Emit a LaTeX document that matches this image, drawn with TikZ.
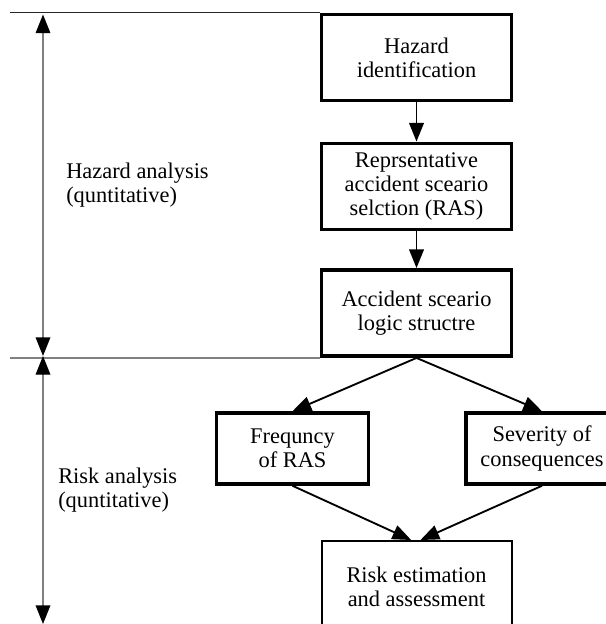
\documentclass[tikz,border=0pt]{standalone}
\usepackage{fontspec}
\setmainfont{Liberation Serif}
\usepackage{tikz}
\usetikzlibrary{arrows.meta}

\begin{document}
\begin{tikzpicture}[x=0.75pt, y=-0.75pt,
    every node/.style={font=\fontsize{16.8}{18.2}\selectfont},
    blk/.style={draw, line width=2.9pt, align=center, inner sep=0pt,
        minimum width=142.5pt, minimum height=64.5pt},
    smallblk/.style={blk, minimum width=114pt, minimum height=53pt},
    flow/.style={-{Triangle[length=14pt, width=11pt]}, line width=1.4pt},
    dim/.style={{Triangle[length=14pt, width=11pt, color=black]}-{Triangle[length=14pt, width=11pt, color=black]},
        gray, line width=1pt}]
    \useasboundingbox (0,0) rectangle (606,624);

    % Boxes
    \node[blk] (haz) at (416.5,57.5) {Hazard\\identification};
    \node[blk] (ras) at (416.5,186.5) {Reprsentative\\accident sceario\\selction (RAS)};
    \node[blk] (logic) at (416.5,313) {Accident sceario\\logic structre};
    \node[smallblk] (freq) at (292.5,448.5) {Frequncy\\of RAS};
    \node[smallblk] (sev) at (542,448.5) {Severity of\\consequences};
    \node[blk, line width=1.5pt, minimum height=69pt] (risk) at (416.5,587) {Risk estimation\\and assessment};

    % Labels on the left
    \node[anchor=west, align=left, inner sep=0pt] (hlab) at (66,185) {Hazard analysis\\(quntitative)};
    \node[anchor=west, align=left, inner sep=0pt] (rlab) at (58,490) {Risk analysis\\(quntitative)};

    % Limits of the two parts
    \coordinate (dtop) at (43,14.5);
    \coordinate (dmid) at (43,356);
    \coordinate (dbot) at (43,624);
    \draw[line width=1pt, black!85] (haz.north west) -- (haz.north west -| 10,0);
    \draw[line width=1pt, gray] (logic.south west) -- (logic.south west -| 10,0);
    \draw[dim] (dtop) -- (dmid);
    \draw[dim] (dmid) -- (dbot);

    % Arrows down the chain
    \foreach \a/\b in {haz/ras, ras/logic}
    {
        \draw[flow] (\a) -- (\b);
    }
    \draw[flow] (logic.south) -- (freq.north);
    \draw[flow] (logic.south) -- (sev.north);
    \coordinate (rinl) at ([xshift=-4pt]risk.north);
    \coordinate (rinr) at ([xshift=3pt]risk.north);
    \draw[flow] (freq.south) -- (rinl);
    \draw[flow] (sev.south) -- (rinr);
\end{tikzpicture}
\end{document}
